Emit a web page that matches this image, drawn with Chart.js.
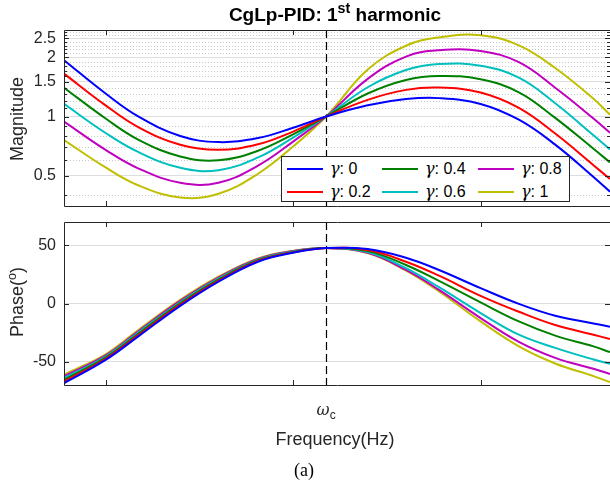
<!DOCTYPE html>
<html>
<head>
<meta charset="utf-8">
<script src="https://cdn.jsdelivr.net/npm/chart.js@4.4.1/dist/chart.umd.min.js"></script>
<style>
  body { margin: 0; background: #fff; }
  #wrap { position: relative; width: 610px; height: 486px; overflow: hidden;
          font-family: "Liberation Sans", Arial, sans-serif; color: #262626; }
  canvas { position: absolute; left: 0; top: 0; }
  .txt { position: absolute; white-space: nowrap; transform: translate(-50%, -50%); }
  .rot { transform: translate(-50%, -50%) rotate(-90deg); }
  sup { font-size: 70%; vertical-align: 0.55em; line-height: 0; }
  sub { font-size: 75%; vertical-align: -0.35em; line-height: 0; }
  .gm { font-family: "DejaVu Serif", "Liberation Serif", serif; font-style: italic; }
  #legend { position: absolute; left: 281px; top: 156px; width: 289px; height: 46px;
            box-sizing: border-box; border: 1px solid #262626; background: #fff;
            display: grid; grid-auto-flow: column; grid-template-rows: 23px 23px;
            grid-template-columns: 95px 96px 96px; padding-left: 5px; font-size: 16px; color: #000; }
  .item { display: flex; align-items: center; }
  .swatch { display: inline-block; width: 36px; height: 2px; margin-right: 7px; }
</style>
</head>
<body>
<div id="wrap">
  <canvas id="mag" width="610" height="486"></canvas>
  <canvas id="phase" width="610" height="486"></canvas>
  <div id="title" class="txt" style="left:335px; top:15px; font-size:19px; font-weight:bold; color:#000;">CgLp-PID: 1<sup style="font-size:75%">st</sup> harmonic</div>
  <div class="txt rot" style="left:17px; top:119px; font-size:18px;">Magnitude</div>
  <div class="txt rot" style="left:17px; top:302px; font-size:18px;">Phase(<sup>o</sup>)</div>
  <div id="wclab" class="txt" style="left:326px; top:409px; font-size:16px;"><span class="gm">ω</span><sub>c</sub></div>
  <div class="txt" style="left:335px; top:439px; font-size:18px;">Frequency(Hz)</div>
  <div class="txt" style="left:304px; top:470px; font-size:18px; font-family:'Liberation Serif', serif; color:#000;">(a)</div>
  <div id="legend"></div>
</div>
<script>
// frequency grid (Hz), crossover at wc
const freq = [6, 10, 15, 25, 40, 65, 100, 150, 250, 400, 600, 1000, 1600, 2500, 4000, 4900];
const wc = 150;
const gammas = ['0', '0.2', '0.4', '0.6', '0.8', '1'];
const colors = ['#0000ff', '#ff0000', '#008000', '#00bfbf', '#bf00bf', '#bfbf00'];

// magnitude of 1st harmonic
const magG0  = [1.937, 1.31, 0.998, 0.796, 0.741, 0.777, 0.876, 1.0, 1.141, 1.227, 1.241, 1.159, 0.963, 0.719, 0.492, 0.414];
const magG02 = [1.654, 1.14, 0.881, 0.718, 0.677, 0.722, 0.838, 1.0, 1.216, 1.367, 1.405, 1.325, 1.106, 0.819, 0.565, 0.48];
const magG04 = [1.402, 0.977, 0.761, 0.626, 0.598, 0.669, 0.811, 1.0, 1.31, 1.536, 1.609, 1.548, 1.328, 0.984, 0.685, 0.584];
const magG06 = [1.16, 0.824, 0.658, 0.548, 0.533, 0.619, 0.781, 1.0, 1.41, 1.727, 1.852, 1.815, 1.577, 1.169, 0.803, 0.68];
const magG08 = [0.943, 0.676, 0.543, 0.46, 0.46, 0.562, 0.745, 1.0, 1.555, 2.021, 2.177, 2.157, 1.891, 1.402, 0.977, 0.826];
const magG1  = [0.759, 0.55, 0.445, 0.387, 0.404, 0.511, 0.703, 1.0, 1.734, 2.294, 2.53, 2.596, 2.305, 1.767, 1.231, 1.021];

// phase (deg)
const phG0  = [-68.5, -48.5, -28, -2, 18.8, 35.9, 43.6, 47.6, 46.8, 39.3, 28.8, 13.2, -0.3, -10.5, -17.1, -20];
const phG02 = [-67, -47.5, -26.9, -1, 19.6, 36.5, 43.9, 47.6, 45.9, 35.9, 23.9, 6.6, -7.1, -18.5, -26.8, -30.5];
const phG04 = [-65.5, -46.5, -25.8, 0.1, 20.5, 37.1, 44.3, 47.6, 45, 33.1, 19.4, 0.9, -15.4, -27.6, -36.8, -41.8];
const phG06 = [-64, -45.6, -24.7, 1.1, 21.3, 37.6, 44.6, 47.6, 44.2, 30.3, 14, -8.2, -26.8, -38.1, -48.1, -51.8];
const phG08 = [-62.5, -44.6, -23.6, 2.2, 22.2, 38.2, 45, 47.6, 43.6, 28.8, 11.7, -12.5, -33, -46.7, -56.1, -60.5];
const phG1  = [-61, -43.6, -22.5, 3.2, 23, 38.8, 45.3, 47.6, 43.3, 28.2, 10.3, -15.4, -36.8, -51.5, -62.4, -67.5];

// ticks
const magTicks = [0.5, 1, 1.5, 2, 2.5];
const magMinor = [0.4, 0.6, 0.7, 0.8, 0.9, 1.1, 1.2, 1.3, 1.4, 1.6, 1.7, 1.8, 1.9, 2.1, 2.2, 2.3, 2.4, 2.6, 2.7];
const phaseTicks = [-50, 0, 50];
const freqTicks = [10, 100, 1000];

const magSeries = [magG0, magG02, magG04, magG06, magG08, magG1];
const phSeries = [phG0, phG02, phG04, phG06, phG08, phG1];

// frame, inward ticks, minor grid and wc marker
const framePlugin = {
  id: 'frame',
  beforeDatasetsDraw(chart, args, opts) {
    const { ctx, chartArea: a, scales: { x, y } } = chart;
    ctx.save();
    if (opts.minor) {
      ctx.strokeStyle = '#c8c8c8';
      ctx.lineWidth = 1;
      ctx.setLineDash([1, 2]);
      opts.minor.forEach(v => {
        const py = Math.round(y.getPixelForValue(v)) + 0.5;
        ctx.beginPath(); ctx.moveTo(a.left, py); ctx.lineTo(a.right, py); ctx.stroke();
      });
    }
    const px = Math.round(x.getPixelForValue(wc)) + 0.5;
    ctx.strokeStyle = '#000';
    ctx.lineWidth = 1.2;
    ctx.setLineDash([8, 4]);
    ctx.beginPath(); ctx.moveTo(px, a.top); ctx.lineTo(px, a.bottom); ctx.stroke();
    ctx.restore();
  },
  afterDatasetsDraw(chart, args, opts) {
    const { ctx, chartArea: a, scales: { x, y } } = chart;
    ctx.save();
    ctx.strokeStyle = '#262626';
    ctx.lineWidth = 1;
    ctx.beginPath();
    ctx.moveTo(a.right + 0.5, a.top + 0.5);
    ctx.lineTo(a.left + 0.5, a.top + 0.5);
    ctx.lineTo(a.left + 0.5, a.bottom + 0.5);
    ctx.lineTo(a.right + 0.5, a.bottom + 0.5);
    ctx.lineTo(a.right + 0.5, a.top + 0.5);
    ctx.stroke();
    ctx.beginPath();
    freqTicks.forEach(v => {
      const px = Math.round(x.getPixelForValue(v)) + 0.5;
      ctx.moveTo(px, a.top); ctx.lineTo(px, a.top + 5);
      ctx.moveTo(px, a.bottom); ctx.lineTo(px, a.bottom - 5);
    });
    opts.major.forEach(v => {
      const py = Math.round(y.getPixelForValue(v)) + 0.5;
      ctx.moveTo(a.left, py); ctx.lineTo(a.left + 5, py);
      ctx.moveTo(a.right, py); ctx.lineTo(a.right - 5, py);
    });
    (opts.minor || []).forEach(v => {
      const py = Math.round(y.getPixelForValue(v)) + 0.5;
      ctx.moveTo(a.left, py); ctx.lineTo(a.left + 3, py);
      ctx.moveTo(a.right, py); ctx.lineTo(a.right - 3, py);
    });
    ctx.stroke();
    ctx.restore();
  }
};

function makeDatasets(series) {
  return series.map((s, i) => ({
    label: 'γ: ' + gammas[i],
    data: freq.map((f, k) => ({ x: f, y: s[k] })),
    borderColor: colors[i],
    borderWidth: 2,
    pointRadius: 0,
    fill: false,
    tension: 0.4
  }));
}

function makeChart(id, series, yOpts, padTop, padBottom, frameOpts) {
  return new Chart(document.getElementById(id), {
    type: 'line',
    data: { datasets: makeDatasets(series) },
    options: {
      responsive: false,
      animation: false,
      layout: { padding: { left: 0, right: 0, top: padTop, bottom: padBottom } },
      plugins: { legend: { display: false }, tooltip: { enabled: false }, frame: frameOpts },
      scales: {
        x: { type: 'logarithmic', min: 6, max: 4900, display: false },
        y: Object.assign({
          grid: { color: '#dedede', drawTicks: false, lineWidth: 1 },
          border: { display: false },
          ticks: {
            padding: 8,
            color: '#262626',
            font: { family: 'Liberation Sans', size: 16 },
            callback: v => String(v)
          },
          afterFit: s => { s.width = 64; }
        }, yOpts)
      }
    },
    plugins: [framePlugin]
  });
}

const magChart = makeChart('mag', magSeries, {
  type: 'logarithmic', min: 0.35, max: 2.76,
  afterBuildTicks: s => { s.ticks = magTicks.map(v => ({ value: v })); }
}, 30, 280, { major: magTicks, minor: magMinor });

const phaseChart = makeChart('phase', phSeries, {
  type: 'linear', min: -70, max: 70,
  afterBuildTicks: s => { s.ticks = phaseTicks.map(v => ({ value: v })); }
}, 222, 101, { major: phaseTicks });

// place the wc label on its tick
document.getElementById('wclab').style.left = phaseChart.scales.x.getPixelForValue(wc) + 'px';

// legend, filled column by column
const legend = document.getElementById('legend');
gammas.forEach((g, i) => {
  const item = document.createElement('div');
  item.className = 'item';
  item.innerHTML = '<span class="swatch" style="background:' + colors[i] + '"></span><span class="gm">γ</span>: ' + g;
  legend.appendChild(item);
});
</script>
</body>
</html>
